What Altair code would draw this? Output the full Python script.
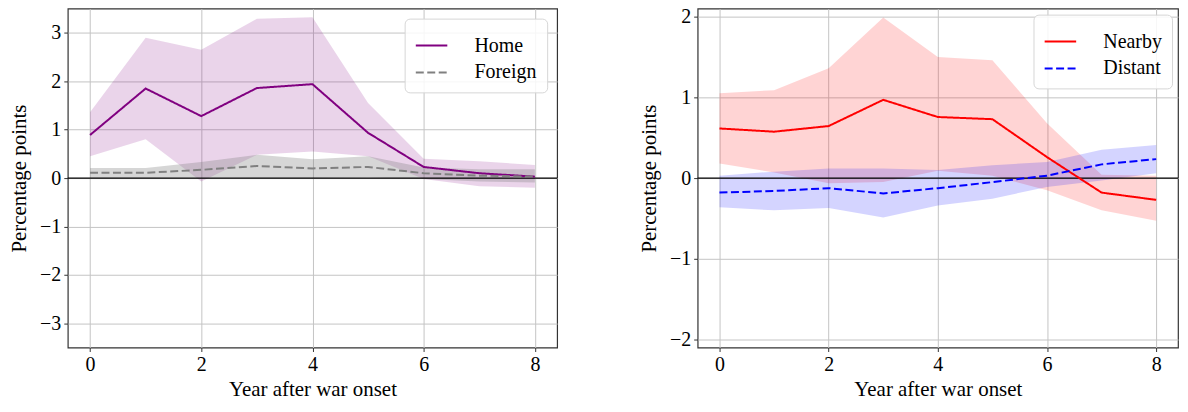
import altair as alt
import pandas as pd

years = [0, 1, 2, 3, 4, 5, 6, 7, 8]

# Left panel
home = [0.89, 1.85, 1.28, 1.86, 1.94, 0.935, 0.23, 0.10, 0.03]
home_hi = [1.36, 2.90, 2.65, 3.29, 3.32, 1.55, 0.40, 0.35, 0.27]
home_lo = [0.45, 0.80, -0.07, 0.48, 0.55, 0.45, -0.02, -0.17, -0.20]
foreign = [0.11, 0.11, 0.17, 0.25, 0.20, 0.23, 0.10, 0.05, 0.03]
foreign_hi = [0.21, 0.21, 0.33, 0.48, 0.39, 0.45, 0.22, 0.18, 0.18]
foreign_lo = [0.00, 0.00, 0.01, 0.00, 0.00, 0.01, -0.02, -0.07, -0.09]

# Right panel
nearby = [0.615, 0.575, 0.645, 0.97, 0.757, 0.73, 0.26, -0.18, -0.27]
nearby_hi = [1.05, 1.09, 1.36, 1.99, 1.50, 1.46, 0.68, 0.04, 0.03]
nearby_lo = [0.18, 0.07, -0.065, -0.05, 0.09, 0.03, -0.15, -0.40, -0.53]
distant = [-0.18, -0.16, -0.125, -0.19, -0.125, -0.05, 0.03, 0.17, 0.235]
distant_hi = [0.03, 0.08, 0.12, 0.12, 0.10, 0.16, 0.20, 0.35, 0.41]
distant_lo = [-0.36, -0.40, -0.37, -0.49, -0.34, -0.255, -0.11, -0.03, 0.06]

FONT = "Liberation Serif"


def panel(names, means, his, los, colors, band_opac, ydom, yvals, legend_offset, width):
    rows = []
    for n, m, h, l in zip(names, means, his, los):
        for yr, a, b, c in zip(years, m, h, l):
            rows.append({"year": yr, "series": n, "mean": a, "hi": b, "lo": c})
    df = pd.DataFrame(rows)

    x = alt.X("year:Q",
              scale=alt.Scale(domain=[-0.4, 8.4], nice=False, zero=False),
              axis=alt.Axis(values=[0, 2, 4, 6, 8], title="Year after war onset"))
    yscale = alt.Scale(domain=ydom, nice=False, zero=False)
    yaxis = alt.Axis(values=yvals, title="Percentage points", format="d")

    layers = []
    for n, c, o in zip(names, colors, band_opac):
        layers.append(
            alt.Chart(df).transform_filter(alt.datum.series == n)
            .mark_area(color=c, opacity=o)
            .encode(x=x, y=alt.Y("lo:Q", scale=yscale, axis=yaxis), y2="hi:Q")
        )
    layers.append(
        alt.Chart(pd.DataFrame({"z": [0]}))
        .mark_rule(color="black", strokeWidth=1.4)
        .encode(y=alt.Y("z:Q", scale=yscale, axis=yaxis))
    )
    leg = alt.Legend(title=None, orient="top-right", offset=legend_offset,
                     symbolType="stroke", symbolSize=1000, symbolStrokeWidth=2,
                     labelOffset=26, padding=10, rowPadding=-1,
                     strokeColor="#d6d6d6", cornerRadius=5,
                     fillColor="rgba(255,255,255,0.85)")
    layers.append(
        alt.Chart(df).mark_line(strokeWidth=2)
        .encode(
            x=x,
            y=alt.Y("mean:Q", scale=yscale, axis=yaxis),
            color=alt.Color("series:N", scale=alt.Scale(domain=names, range=colors), legend=leg),
            strokeDash=alt.StrokeDash("series:N",
                                      scale=alt.Scale(domain=names, range=[[1, 0], [8, 3.5]]),
                                      legend=leg),
        )
    )
    return alt.layer(*layers).properties(width=width, height=340)


left = panel(["Home", "Foreign"], [home, foreign], [home_hi, foreign_hi],
             [home_lo, foreign_lo], ["#800080", "#808080"], [0.17, 0.32],
             [-3.5, 3.5], [-3, -2, -1, 0, 1, 2, 3], 10, 491)
right = panel(["Nearby", "Distant"], [nearby, distant], [nearby_hi, distant_hi],
              [nearby_lo, distant_lo], ["#ff0000", "#0000ff"], [0.17, 0.17],
              [-2.1, 2.1], [-2, -1, 0, 1, 2], 6, 482)

chart = (
    alt.hconcat(left, right, spacing=79)
    .resolve_scale(color="independent", strokeDash="independent", y="independent", x="independent")
    .resolve_legend(color="independent", strokeDash="independent")
    .properties(padding={"left": 0, "top": -3, "right": 0, "bottom": -5})
    .configure_view(stroke="#333333", strokeWidth=1.2)
    .configure_axis(
        labelFont=FONT, titleFont=FONT, labelFontSize=20, titleFontSize=21,
        titleFontWeight="normal", labelColor="black", titleColor="black",
        gridColor="#c4c4c4", gridWidth=1, domain=False,
        tickColor="#333333", tickSize=4, labelPadding=3,
    )
    .configure_axisY(titlePadding=10)
    .configure_axisX(titlePadding=4)
    .configure_legend(labelFont=FONT, labelFontSize=20, labelColor="black")
)

chart.save("out.html", embed_options={"renderer": "svg", "actions": False})
